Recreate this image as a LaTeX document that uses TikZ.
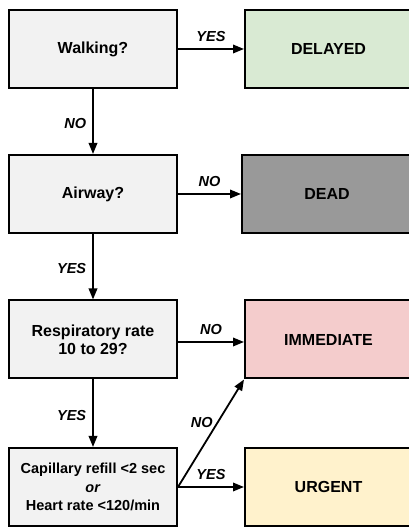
\documentclass[tikz,border=0pt]{standalone}
\usepackage{fontspec}
\setmainfont{Liberation Sans}
\usetikzlibrary{arrows.meta}
\definecolor{qfill}{HTML}{F2F2F2}
\definecolor{delayedfill}{HTML}{D9EAD3}
\definecolor{deadfill}{HTML}{999999}
\definecolor{immfill}{HTML}{F4CCCC}
\definecolor{urgfill}{HTML}{FFF2CC}
\tikzset{
  qbox/.style={draw=black, line width=2pt, fill=qfill, minimum width=168pt,
    minimum height=78pt, inner sep=0pt, align=center,
    font=\fontsize{16}{18.3}\selectfont\bfseries},
  catbox/.style={qbox},
  flow/.style={line width=1.8pt, -{Triangle[length=11pt,width=8.5pt]}},
  lbl/.style={font=\fontsize{14.5}{17}\selectfont\bfseries\itshape, inner sep=0pt}
}
\begin{document}
\begin{tikzpicture}[x=1pt,y=1pt]
\useasboundingbox (0,0) rectangle (409,527);
\clip (0,0) rectangle (409,527);

% question boxes (left column)
\node[qbox] (walk) at (93,478) {Walking?};
\node[qbox] (air)  at (93,333) {Airway?};
\node[qbox] (resp) at (93,187.5) {Respiratory rate\\10 to 29?};
\node[qbox, font=\fontsize{14.5}{18.3}\selectfont\bfseries] (cap) at (93,40)
  {Capillary refill <2 sec\\\textit{or}\\Heart rate <120/min};

% triage categories (right column, running off the right edge)
\node[catbox, fill=delayedfill, minimum width=167pt] (delayed) at (328.5,478) {DELAYED};
\node[catbox, fill=deadfill, minimum width=170pt] (dead) at (327,333) {DEAD};
\node[catbox, fill=immfill, minimum width=167pt] (imm) at (328.5,187.5) {IMMEDIATE};
\node[catbox, fill=urgfill, minimum width=167pt] (urg) at (328.5,40) {URGENT};

% horizontal decisions
\draw[flow] (walk.east) -- node[lbl, above=6pt] (y1) {YES} (delayed.west);
\draw[flow] (air.east) -- node[lbl, above=6pt] (n2) {NO} (dead.west);
\draw[flow] ([yshift=-2.5pt]resp.east) -- node[lbl, above=6pt] (n3) {NO} ([yshift=-2.5pt]imm.west);
\draw[flow] (cap.east) -- node[lbl, above=6pt] (y4) {YES} (urg.west);
\draw[flow] (cap.east) -- node[lbl, pos=0.6, left=4pt] (n4) {NO} (imm.south west);

% vertical decisions
\draw[flow] (walk.south) -- node[lbl, left=6pt, pos=0.53] (n1) {NO} (air.north);
\draw[flow] (air.south) -- node[lbl, left=6pt, pos=0.52] (y2) {YES} (resp.north);
\draw[flow] (resp.south) -- node[lbl, left=6pt, pos=0.54] (y3) {YES} (cap.north);
\end{tikzpicture}
\end{document}
